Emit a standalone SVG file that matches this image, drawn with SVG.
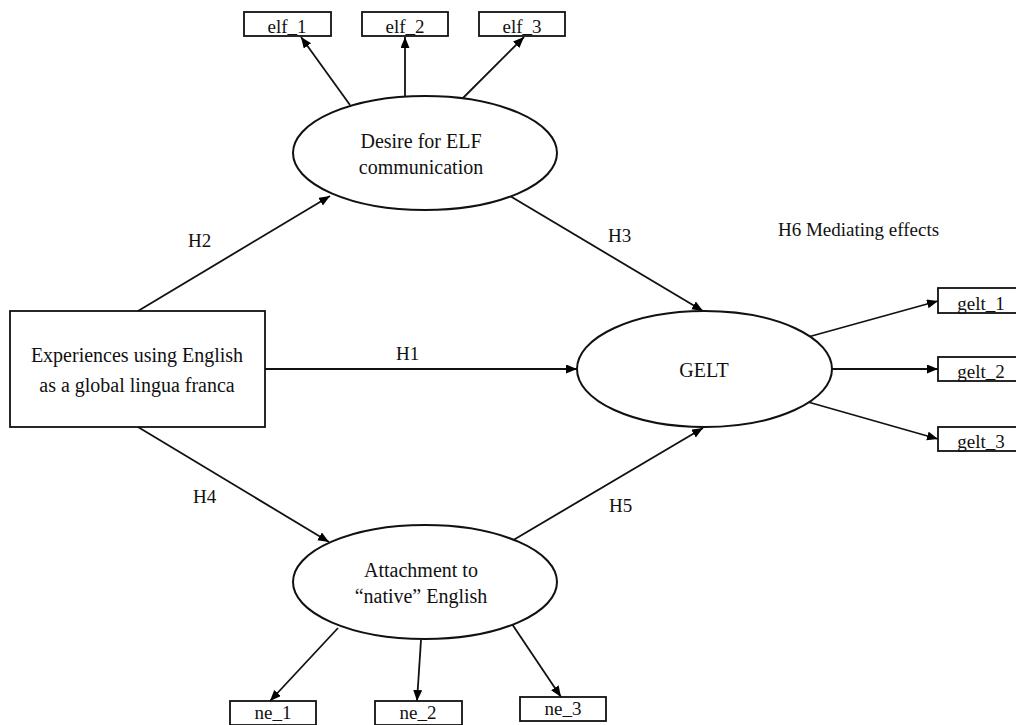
<svg xmlns="http://www.w3.org/2000/svg" width="1016" height="725" viewBox="0 0 1016 725">
<defs>
<marker id="ah" markerUnits="userSpaceOnUse" markerWidth="12" markerHeight="10" refX="11" refY="4.5" orient="auto">
<path d="M0,0 L11,4.5 L0,9 Z" fill="#000"/>
</marker>
<style>
text{font-family:"Liberation Serif","Times New Roman",serif;fill:#111;}
.t{font-size:20px;text-anchor:middle;}
.s{font-size:19px;text-anchor:middle;}
.h{font-size:19px;}
.box{fill:none;stroke:#111;stroke-width:1.8;}
.ell{fill:#fff;stroke:#111;stroke-width:2;}
.c{stroke:#111;stroke-width:1.8;fill:none;marker-end:url(#ah);}
</style>
</defs>
<rect width="1016" height="725" fill="#fff"/>
<g id="connectors">
<line class="c" x1="138" y1="311" x2="330" y2="196"/>
<line class="c" x1="510" y1="196" x2="703" y2="311"/>
<line class="c" x1="265" y1="369" x2="577" y2="369"/>
<line class="c" x1="138" y1="427" x2="329" y2="542"/>
<line class="c" x1="510" y1="542" x2="703" y2="428"/>
<line class="c" x1="350" y1="105" x2="301" y2="37"/>
<line class="c" x1="405" y1="97" x2="405" y2="37"/>
<line class="c" x1="462" y1="99" x2="524" y2="37"/>
<line class="c" x1="808" y1="337" x2="938" y2="301"/>
<line class="c" x1="832" y1="369" x2="938" y2="369"/>
<line class="c" x1="808" y1="402" x2="938" y2="439"/>
<line class="c" x1="338" y1="628" x2="270" y2="701"/>
<line class="c" x1="421" y1="640" x2="417" y2="701"/>
<line class="c" x1="512" y1="624" x2="561" y2="697"/>
</g>
<g id="labels">
<text class="h" x="188" y="247">H2</text>
<text class="h" x="608" y="242">H3</text>
<text class="h" x="396" y="360">H1</text>
<text class="h" x="193" y="503">H4</text>
<text class="h" x="609" y="512">H5</text>
<text class="h" x="778" y="236">H6 Mediating effects</text>
</g>
<g id="experiences">
<rect class="box" x="10" y="311" width="255" height="116"/>
<text class="t" x="137" y="362">Experiences using English</text>
<text class="t" x="137" y="392">as a global lingua franca</text>
</g>
<g id="desire">
<ellipse class="ell" cx="425" cy="153" rx="132" ry="57"/>
<text class="t" x="421" y="148">Desire for ELF</text>
<text class="t" x="421" y="174">communication</text>
</g>
<g id="gelt">
<ellipse class="ell" cx="704.5" cy="369" rx="127.5" ry="58"/>
<text class="t" x="704" y="377">GELT</text>
</g>
<g id="attachment">
<ellipse class="ell" cx="425" cy="582" rx="132" ry="57"/>
<text class="t" x="421" y="577">Attachment to</text>
<text class="t" x="421" y="603">“native” English</text>
</g>
<g id="elf_1"><text class="s" x="287" y="32.5">elf_1</text><rect class="box" x="244" y="12" width="87" height="24"/></g>
<g id="elf_2"><text class="s" x="405" y="32.5">elf_2</text><rect class="box" x="362" y="12" width="86" height="24"/></g>
<g id="elf_3"><text class="s" x="522" y="32.5">elf_3</text><rect class="box" x="479" y="12" width="86" height="24"/></g>
<g id="gelt_1"><text class="s" x="981" y="310">gelt_1</text><rect class="box" x="938" y="288" width="86" height="25"/></g>
<g id="gelt_2"><text class="s" x="981" y="378">gelt_2</text><rect class="box" x="938" y="357" width="86" height="24"/></g>
<g id="gelt_3"><text class="s" x="981" y="448">gelt_3</text><rect class="box" x="938" y="427" width="86" height="24"/></g>
<g id="ne_1"><text class="s" x="273" y="719">ne_1</text><rect class="box" x="230" y="701" width="86" height="24"/></g>
<g id="ne_2"><text class="s" x="418" y="719">ne_2</text><rect class="box" x="375" y="701" width="87" height="24"/></g>
<g id="ne_3"><text class="s" x="563" y="715">ne_3</text><rect class="box" x="520" y="697" width="86" height="24"/></g>
</svg>
